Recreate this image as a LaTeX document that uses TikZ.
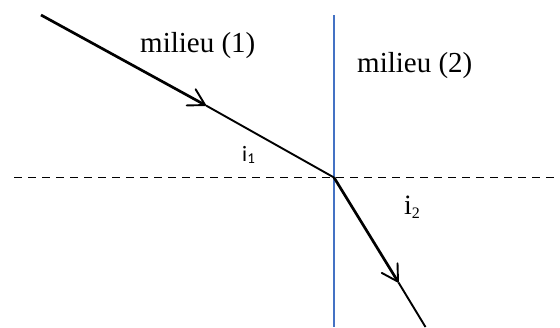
\documentclass[tikz,border=0pt]{standalone}
\usepackage{fontspec}
\setmainfont{Liberation Serif}
\newfontfamily\calib{Carlito}
\usetikzlibrary{arrows.meta}
\definecolor{normalblue}{HTML}{4472C4}
\tikzset{
  thickray/.style={line width=2.7pt},
  thinray/.style={line width=1.9pt},
  vtip/.style={-{Straight Barb[length=16pt,width=18.5pt,line width=1.9pt,round]}},
  dashline/.style={line width=1.9pt, dash pattern=on 8pt off 6pt},
  lbl/.style={anchor=base west, inner sep=0pt, font=\fontsize{29}{33}\selectfont}
}
\begin{document}
\begin{tikzpicture}[x=1pt,y=-1pt]
\useasboundingbox (0,0) rectangle (560,327);
\coordinate (A) at (41,15);
\coordinate (O) at (334,177.5);
\coordinate (T1) at (206,105.5);
\coordinate (T2) at (398.5,282.5);
\coordinate (B) at (425.5,327);
\coordinate (NT) at (334,15);
\coordinate (NB) at (334,327);
\coordinate (DL) at (14,177.5);
\coordinate (DR) at (560,177.5);
% interface (blue) and dashed line
\draw[normalblue, line width=2pt] (NT) -- (NB);
\draw[dashline] (DL) -- (DR);
% incident ray
\draw[thickray, vtip] (A) -- (T1);
\draw[thinray] (T1) -- (O);
% refracted ray
\draw[thickray, vtip] (O) -- (T2);
\draw[thinray] (T2) -- (B);
% labels
\node[lbl] (m1) at (140,52) {milieu (1)};
\node[lbl] (m2) at (357,72) {milieu (2)};
\node[anchor=base west, inner sep=0pt, font=\calib\fontsize{22}{26}\selectfont] (i1) at (242,161) {i\raisebox{-2pt}{\fontsize{15}{17}\selectfont 1}};
\node[anchor=base west, inner sep=0pt, font=\fontsize{28}{32}\selectfont] (i2) at (404,214) {i\raisebox{-4pt}{\fontsize{16}{18}\selectfont 2}};
\end{tikzpicture}
\end{document}
